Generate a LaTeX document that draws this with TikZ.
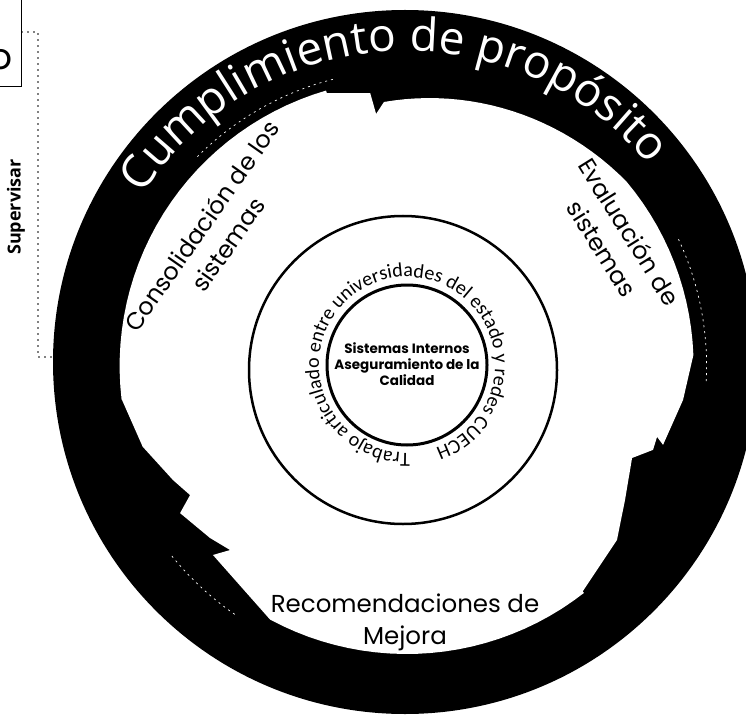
\documentclass[tikz,border=0pt]{standalone}
\usepackage{fontspec}
\usepackage[copies]{contour}
\usetikzlibrary{decorations.text}
\newfontfamily\popp{Poppins}
\newfontfamily\osans{Open Sans}
\newfontfamily\carl{Carlito}
\newcommand\outlchar[1]{\contour{black}{#1}}
\contourlength{1.3pt}
\contournumber{24}
\tikzset{
  lbl/.style={font=\popp\fontsize{24}{32}\selectfont, align=center, inner sep=0pt},
  dotsty/.style={line width=1.6pt, dash pattern=on 0pt off 6pt, line cap=round},
  artif/.style={white, line width=0.7pt, dash pattern=on 2pt off 4pt},
}
\begin{document}
\begin{tikzpicture}[x=1pt,y=1pt]
\useasboundingbox (0,0) rectangle (746pt,716pt);
\fill[white] (0,0) rectangle (746pt,716pt);
% outer black ring made of three arrows
\fill[black] (405pt,354pt) circle [radius=352pt];
\begin{scope}[shift={(406.6pt,350pt)}]
\fill[white] (106.3:284.4pt) -- (97.6:275.4pt) -- (96.9:253.9pt) -- (94.9:265pt)
  -- plot[domain=94.9:40, samples=25] (\x:{(265+22*(94.9-\x)/54.9)*1pt})
  -- plot[domain=40:2.2, samples=15] (\x:287pt)
  -- (-7:278.5pt) -- (-17.1:268.3pt) -- (-15.8:260.3pt) -- (-18.8:260.3pt) -- (-22.2:243.5pt)
  -- (-31.5:256.2pt) -- (-39.6:273pt) -- (-52:286pt)
  -- plot[domain=-52:-118.3, samples=25] (\x:288pt)
  -- (-135.7:270.6pt) -- (-133.8:255pt) -- (-138.8:261.2pt) -- (-147:270.1pt)
  -- (-149.2:252.1pt) -- (-154:260pt) -- (-163:276pt) -- (-173.2:286.6pt)
  -- plot[domain=-173.2:-253.7, samples=30] (\x:287pt) -- cycle;
\draw[artif] (25:300pt) arc[start angle=25, end angle=-3, radius=300pt];
\draw[artif] (219:302pt) arc[start angle=219, end angle=236, radius=302pt];
\draw[artif] (135:296pt) arc[start angle=135, end angle=104, radius=296pt];
\path[decorate, decoration={text effects along path,
    text={Cumplimiento de propósito},
    text effects/.cd, text along path, character command=\outlchar,
    characters={font=\osans\fontsize{46}{48}\selectfont, text=white}}]
  (147:315pt) arc[start angle=147, end angle=10, radius=315pt];
\end{scope}
% middle and inner circles
\node[circle, draw, line width=2.5pt, minimum size=308pt, inner sep=0] (mid) at (403pt,346pt) {};
\node[circle, draw, line width=3pt, minimum size=160pt, inner sep=0] (inner) at (407pt,351pt) {};
\node[font=\popp\bfseries\fontsize{13.5}{16}\selectfont, align=center, inner sep=0pt] (sic) at (407pt,352pt)
  {Sistemas Internos\\Aseguramiento de la\\Calidad};
\begin{scope}[shift={(407pt,351pt)}]
\path[decorate, decoration={text along path, text align=left,
    text={|\carl\fontsize{20}{23}\selectfont|Trabajo articulado entre universidades del estado y redes CUECH}}]
  (-88:88pt) arc[start angle=-88, end angle=-440, radius=88pt];
\end{scope}
% stage labels
\node[lbl, rotate=55] (consol) at (214.5pt,481pt) {Consolidación de los\\sistemas};
\node[lbl, rotate=-58] (eval) at (616pt,476pt) {Evaluación de\\sistemas};
\node[lbl, font=\popp\fontsize{24.5}{32}\selectfont] (recom) at (405pt,94pt) {Recomendaciones de\\Mejora};
% left box and bracket
\node[draw, line width=1.3pt, minimum width=40pt, minimum height=100pt, anchor=south east, inner sep=0] (topbox) at (22pt,629pt) {};
\node[font=\popp\fontsize{36}{40}\selectfont, anchor=base east, inner sep=0] (olbl) at (13pt,646pt) {o};
\node[rotate=90, font=\osans\bfseries\fontsize{18}{20}\selectfont, inner sep=0] (sup) at (16pt,509pt) {Supervisar};
\coordinate (brk) at (38pt,684pt);
\coordinate (ringleft) at (54pt,359pt);
\draw[dotsty] (topbox.east |- brk) -- (brk) -- (brk |- ringleft) -- (ringleft);
\end{tikzpicture}
\end{document}
